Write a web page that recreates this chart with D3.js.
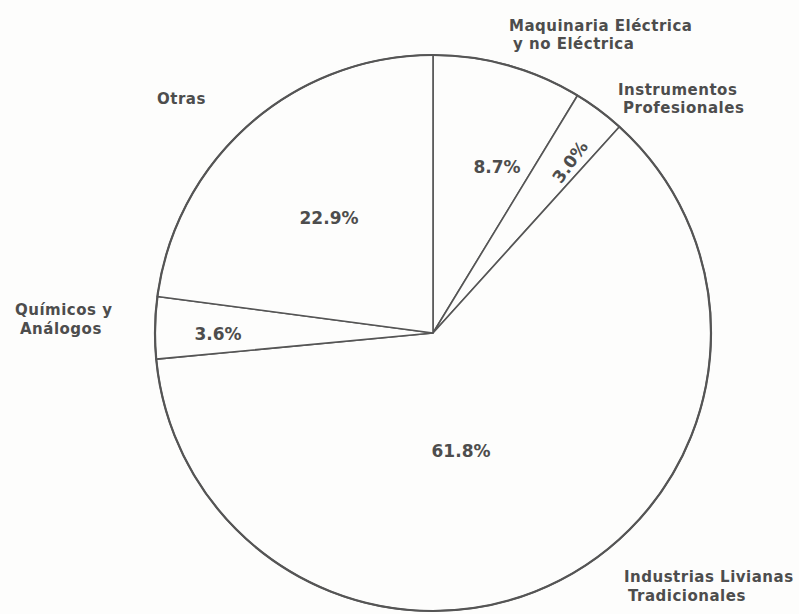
<!DOCTYPE html>
<html>
<head>
<meta charset="utf-8">
<script src="https://cdn.jsdelivr.net/npm/d3@7"></script>
<style>
  body { margin: 0; background: #fdfdfc; }
  text { font-family: "DejaVu Sans", Verdana, sans-serif; font-weight: bold; fill: #4d4d4d; }
</style>
</head>
<body>
<div id="chart"></div>
<script>
// slices, clockwise from 12 o'clock
var categories = ["Maquinaria Eléctrica\ny no Eléctrica", "Instrumentos\nProfesionales",
    "Industrias Livianas\nTradicionales", "Químicos y\nAnálogos", "Otras"];
var values = [8.7, 3.0, 61.8, 3.6, 22.9];
var pctLabels = ["8.7%", "3.0%", "61.8%", "3.6%", "22.9%"];

// label placement relative to pie centre (hand placed like the original)
var pctPos = [[64, -166, 0], [137, -171, -54], [28, 118, 0], [-215, 1, 0], [-104, -115, 0]];
var catPos = [[76, -302, 4, 18], [185, -238, 5, 18], [191, 249, 4, 19], [-418, -18, 5, 19], [-276, -229, 0, 18]];

var width = 799, height = 614,
    cx = 433, cy = 333, radius = 278;

var svg = d3.select("#chart").append("svg")
    .attr("width", width)
    .attr("height", height);

var g = svg.append("g")
    .attr("transform", "translate(" + cx + "," + cy + ")");

var pie = d3.pie().sort(null).value(function (d) { return d; });
var arc = d3.arc().innerRadius(0).outerRadius(radius);

g.selectAll("path.slice")
    .data(pie(values))
    .enter().append("path")
    .attr("class", "slice")
    .attr("d", arc)
    .style("fill", "#fdfdfc")
    .style("stroke", "#555")
    .style("stroke-width", 1.6)
    .style("stroke-linejoin", "round");

// outer ring a bit heavier
g.append("circle")
    .attr("r", radius)
    .style("fill", "none")
    .style("stroke", "#555")
    .style("stroke-width", 2.2);

// percent labels
g.selectAll("text.pct")
    .data(pctLabels)
    .enter().append("text")
    .attr("class", "pct")
    .attr("text-anchor", "middle")
    .attr("dy", "0.35em")
    .attr("transform", function (d, i) {
        return "translate(" + pctPos[i][0] + "," + pctPos[i][1] + ") rotate(" + pctPos[i][2] + ")";
    })
    .style("font-size", "17px")
    .text(function (d) { return d; });

// category labels, two lines each
var cat = g.selectAll("text.cat")
    .data(categories)
    .enter().append("text")
    .attr("class", "cat")
    .attr("x", function (d, i) { return catPos[i][0]; })
    .attr("y", function (d, i) { return catPos[i][1]; })
    .style("font-size", "15px")
    .style("letter-spacing", "0.5px");

cat.each(function (d, i) {
    var t = d3.select(this);
    d.split("\n").forEach(function (l, j) {
        t.append("tspan")
            .attr("x", catPos[i][0] + (j > 0 ? catPos[i][2] : 0))
            .attr("dy", j === 0 ? 0 : catPos[i][3])
            .text(l);
    });
});
</script>
</body>
</html>
